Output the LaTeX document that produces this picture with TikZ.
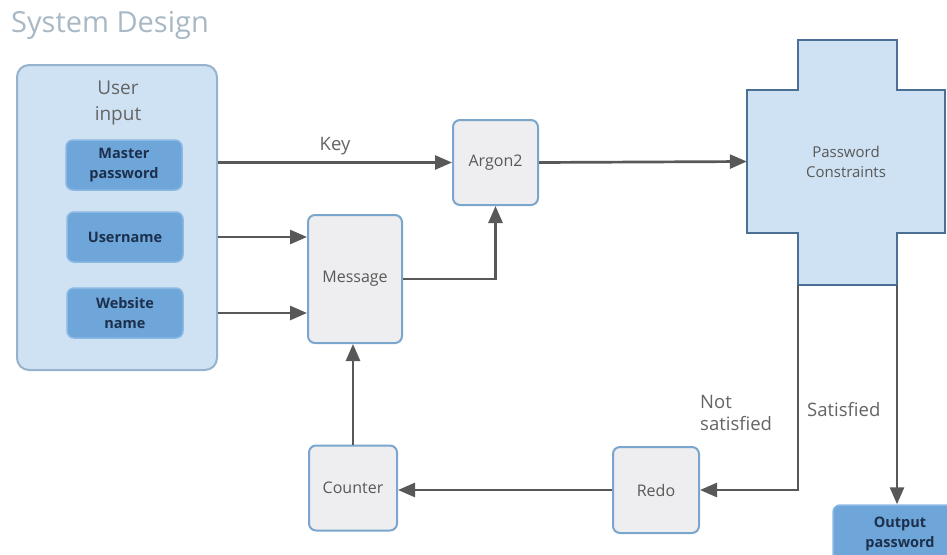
\documentclass[tikz,border=0pt]{standalone}
\usepackage{fontspec}
\setmainfont{Open Sans}
\usepackage{xcolor}
\usepackage{tikz}
\usetikzlibrary{arrows.meta}

\definecolor{inputfill}{RGB}{207,226,243}
\definecolor{inputline}{RGB}{150,178,204}
\definecolor{fieldfill}{RGB}{111,166,218}
\definecolor{fieldline}{RGB}{138,184,226}
\definecolor{fieldtext}{RGB}{28,48,76}
\definecolor{procfill}{RGB}{238,238,240}
\definecolor{procline}{RGB}{122,165,204}
\definecolor{crossline}{RGB}{74,112,150}
\definecolor{flowgray}{RGB}{88,88,88}
\definecolor{labelgray}{RGB}{100,100,100}
\definecolor{titlegray}{RGB}{168,184,196}

\tikzset{
  procbox/.style={draw=procline, fill=procfill, line width=2pt, rounded corners=7pt,
    text=flowgray, font=\fontsize{16}{20}\selectfont, align=center, inner sep=0pt},
  fieldbox/.style={draw=fieldline, fill=fieldfill, line width=1.5pt, rounded corners=7pt,
    text=fieldtext, font=\bfseries\fontsize{14.5}{20}\selectfont, align=center, inner sep=0pt,
    minimum width=116pt, minimum height=50pt},
  flow/.style={draw=flowgray, line width=2.7pt, -{Triangle[length=17pt,width=14pt]}},
  flowlabel/.style={text=labelgray, font=\fontsize{18.5}{22}\selectfont, align=left, inner sep=0pt}
}

\begin{document}
\begin{tikzpicture}[x=1pt,y=-1pt]

\useasboundingbox (0,0) rectangle (947,554);
\clip (0,0) rectangle (947,554);

% Title
\node[anchor=west, text=titlegray, font=\fontsize{29}{32}\selectfont, inner sep=0pt] (title) at (11,25) {System Design};

% User input group
\node[draw=inputline, fill=inputfill, line width=2pt, rounded corners=12pt,
  minimum width=200pt, minimum height=305pt] (userinput) at (117,217.5) {};
\node[text=labelgray, font=\fontsize{19}{26}\selectfont, align=center] (usertitle) at (118,103) {User\\input};
\node[fieldbox] (master) at (124,165) {Master\\password};
\node[fieldbox] (username) at (125,237) {Username};
\node[fieldbox] (website) at (125,313) {Website\\name};

% Process boxes
\node[procbox, minimum width=85pt, minimum height=85pt] (argon2) at (495.5,162.5) {Argon2};
\node[procbox, minimum width=94pt, minimum height=128pt] (message) at (355,279) {Message};
\node[procbox, minimum width=88pt, minimum height=85pt] (counter) at (353,488) {Counter};
\node[procbox, minimum width=86pt, minimum height=86pt] (redo) at (656,490) {Redo};

% Password constraints (cross)
\draw[crossline, fill=inputfill, line width=2.7pt]
  (798,40) -- (897,40) -- (897,90) -- (945,90) -- (945,233) -- (897,233)
  -- (897,285) -- (798,285) -- (798,233) -- (747,233) -- (747,90) -- (798,90) -- cycle;
\node[minimum width=198pt, minimum height=143pt, text=flowgray,
  font=\fontsize{15}{20}\selectfont, align=center] (constraints) at (846,161.5) {Password\\Constraints};
\coordinate (notok) at (798,285);
\coordinate (ok) at (897,285);

% Output
\node[fieldbox, minimum width=134pt, minimum height=57pt] (output) at (900,533.5) {Output\\password};

% Connectors
\draw[flow] (userinput.east |- argon2.west) -- (argon2.west)
  node[flowlabel, midway, above=6pt] (keylabel) {Key};
\draw[flow] (userinput.east |- username) -- (message.west |- username);
\draw[flow] (userinput.east |- website) -- (message.west |- website);
\draw[flow] (message.east) -| (argon2.south);
\draw[flow] (argon2.east) -- (constraints.west);
\draw[flow] (counter.north) -- (counter.north |- message.south);
\draw[flow] (redo.west) -- (redo.west -| counter.east);
\draw[flow] (notok) |- (redo.east);
\draw[flow] (ok) -- (ok |- output.north);

% Branch labels
\node[flowlabel, anchor=west] (notlabel) at (700,413) {Not\\satisfied};
\node[flowlabel, anchor=west] (oklabel) at (807,410) {Satisfied};

\end{tikzpicture}
\end{document}
